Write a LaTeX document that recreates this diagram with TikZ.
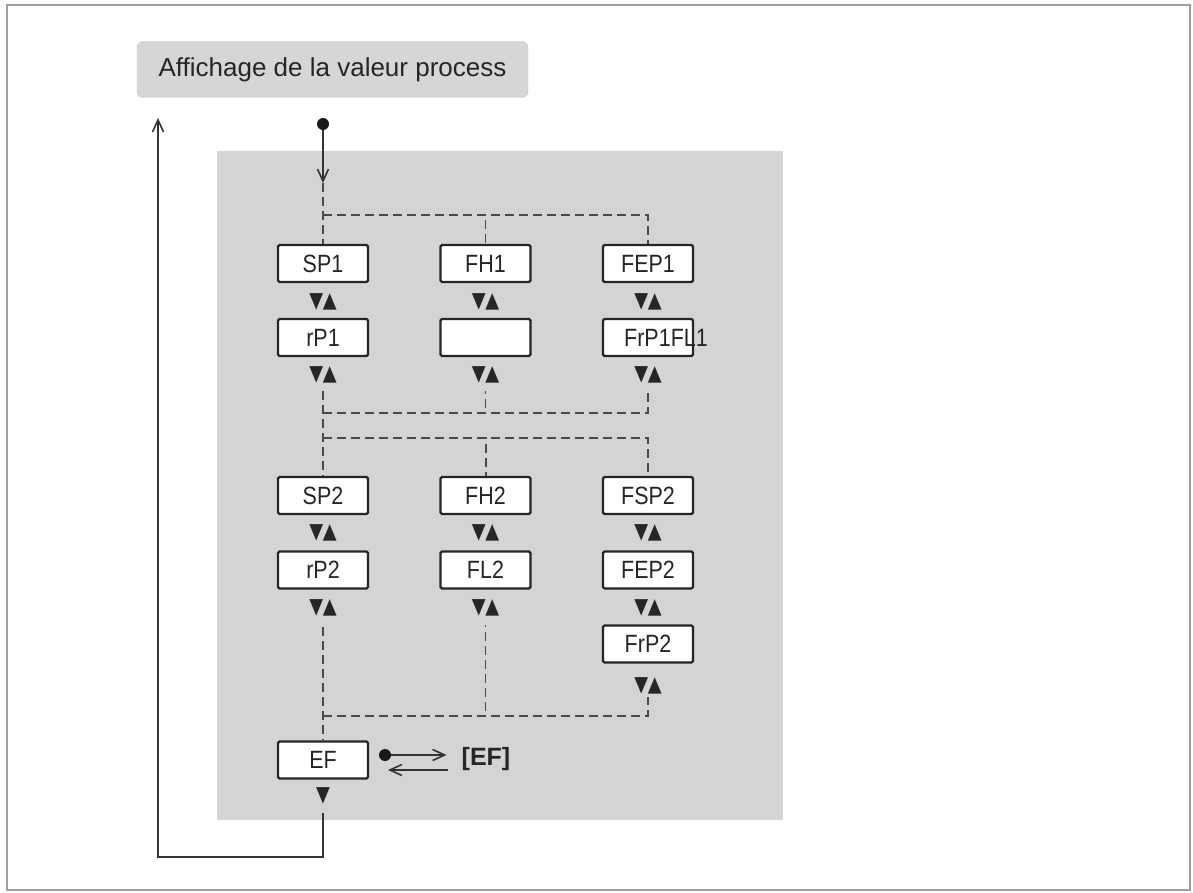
\documentclass[tikz,border=0pt]{standalone}
\usepackage{fontspec}
\setmainfont{Liberation Sans}
\newfontfamily\narrowfont[FakeStretch=0.86]{Liberation Sans}
\newfontfamily\symfont{DejaVu Sans}
\usetikzlibrary{arrows.meta}
\definecolor{panelgray}{HTML}{D4D4D4}
\definecolor{titlegray}{HTML}{D6D6D6}
\definecolor{linegray}{HTML}{4A4A4A}
\tikzset{
	menubox/.style={draw=black!85, line width=2.2pt, fill=white, rounded corners=1.5pt, minimum width=90pt, minimum height=37pt, inner sep=0pt, text=black!85, font=\narrowfont\fontsize{25}{25}\selectfont},
	keys/.style={inner sep=0pt, text=black!85, font=\symfont\fontsize{18}{18}\selectfont},
	bus/.style={draw=linegray, line width=1.6pt, dash pattern=on 9pt off 5pt},
	flow/.style={draw=black!80, line width=1.6pt, -{Straight Barb[length=12pt,width=11pt]}},
	blackdot/.style={circle, fill=black!90, inner sep=0pt, minimum size=12pt},
}
\newcommand{\updown}{\scalebox{1}[1.2]{▼\kern-0.5pt▲}}
\begin{document}
\begin{tikzpicture}[x=1pt, y=-1pt]
	\useasboundingbox (0,0) rectangle (1193,893);
	\draw[gray!75, line width=2pt] (7,5) rectangle (1190,890);
	\node[fill=titlegray, draw=gray!45, rounded corners=6pt, minimum width=391pt, minimum height=56pt, inner sep=0pt, text=black!85, font=\fontsize{26}{26}\selectfont] (title) at (332.5,69.5) {Affichage de la valeur process};
	\fill[panelgray] (217,151) rectangle (783,820);
	% first group
	\node[menubox] (sp1) at (323,263.5) {SP1};
	\node[menubox] (fh1) at (485.5,263.5) {FH1};
	\node[menubox] (fep1) at (648,263.5) {FEP1};
	\node[keys] (k11) at (323,301.5) {\updown};
	\node[keys] (k12) at (485.5,301.5) {\updown};
	\node[keys] (k13) at (648,301.5) {\updown};
	\node[menubox] (rp1) at (323,337.5) {rP1};
	\node[menubox] (fl1) at (485.5,337.5) {};
	\node[menubox] (frp1) at (648,337.5) {};
	\node[inner sep=0pt, text=black!85, font=\narrowfont\fontsize{25}{25}\selectfont] (frp1txt) at (666,337.5) {FrP1FL1};
	\node[keys] (k21) at (323,375) {\updown};
	\node[keys] (k22) at (485.5,375) {\updown};
	\node[keys] (k23) at (648,375) {\updown};
	% second group
	\node[menubox] (sp2) at (323,495.5) {SP2};
	\node[menubox] (fh2) at (485.5,495.5) {FH2};
	\node[menubox] (fsp2) at (648,495.5) {FSP2};
	\node[keys] (k31) at (323,533) {\updown};
	\node[keys] (k32) at (485.5,533) {\updown};
	\node[keys] (k33) at (648,533) {\updown};
	\node[menubox] (rp2) at (323,570) {rP2};
	\node[menubox] (fl2) at (485.5,570) {FL2};
	\node[menubox] (fep2) at (648,570) {FEP2};
	\node[keys] (k41) at (323,608) {\updown};
	\node[keys] (k42) at (485.5,608) {\updown};
	\node[keys] (k43) at (648,608) {\updown};
	\node[menubox] (frp2) at (648,644) {FrP2};
	\node[keys] (k53) at (648,686) {\updown};
	% EF
	\node[menubox] (ef) at (323,760) {EF};
	\node[keys] (kef) at (323,796) {\scalebox{1}[1.2]{▼}};
	\node[blackdot] (efdot) at (385,755) {};
	\node[inner sep=0pt, text=black!85, font=\bfseries\fontsize{25}{25}\selectfont] (efmode) at (486,759) {[EF]};
	% entry
	\node[blackdot] (start) at (323,124) {};
	\coordinate (entry) at (323,183);
	\coordinate (bus1) at (323,215);
	\coordinate (bus2) at (323,413);
	\coordinate (bus3) at (323,438);
	\coordinate (bus4) at (323,716);
	\draw[flow] (start) -- (entry);
	\draw[bus] (entry) -- (sp1);
	\draw[bus] (bus1) -| (fh1.north);
	\draw[bus] (bus1) -| (fep1.north);
	\draw[bus] ([yshift=-8pt]k21.south) -- (sp2.north);
	\draw[bus] (bus2) -| ([yshift=-8pt]k22.south);
	\draw[bus] (bus2) -| ([yshift=-8pt]k23.south);
	\draw[bus, line width=2pt] (bus3) -| (fh2.north);
	\draw[bus, line width=2pt] (bus3) -| (fsp2.north);
	\draw[bus] ([yshift=-11pt]k41.south) -- (ef.north);
	\draw[bus] (bus4) -| ([yshift=-9pt]k42.south);
	\draw[bus] (bus4) -| ([yshift=-3pt]k53.south);
	% exit
	\coordinate (back) at (388,770);
	\coordinate (loop) at (158,857);
	\coordinate (exit) at (158,118);
	\draw[flow, shorten >=15pt] (efdot) -- (efdot -| efmode.west);
	\draw[flow, shorten <=14pt] (back -| efmode.west) -- (back);
	\draw[flow] ([yshift=-9pt]kef.south) |- (loop) -- (exit);
\end{tikzpicture}
\end{document}
